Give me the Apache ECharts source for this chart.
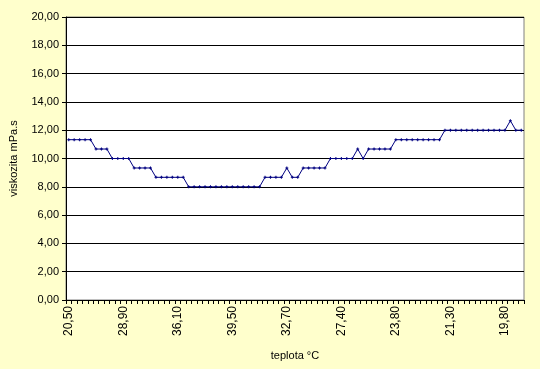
<!DOCTYPE html>
<html>
<head>
<meta charset="utf-8">
<script src="https://cdn.jsdelivr.net/npm/echarts@6/dist/echarts.min.js"></script>
<style>
    html, body { margin: 0; padding: 0; background: #FFFFCC; }
    #chart { width: 540px; height: 369px; }
</style>
</head>
<body>
<div id="chart"></div>
<script>
(function (echarts) {
    "use strict";
    // popisky osy x (kazda desata kategorie)
    var tickLabels = ['20,50', '28,90', '36,10', '39,50', '32,70', '27,40', '23,80', '21,30', '19,80'];
    var labelStep = 10;
    var pointCount = 84;
    // viskozita mPa.s
    var viscosity = [
        11.33, 11.33, 11.33, 11.33, 11.33,
        10.67, 10.67, 10.67,
        10, 10, 10, 10,
        9.33, 9.33, 9.33, 9.33,
        8.67, 8.67, 8.67, 8.67, 8.67, 8.67,
        8, 8, 8, 8, 8, 8, 8, 8, 8, 8, 8, 8, 8, 8,
        8.67, 8.67, 8.67, 8.67,
        9.33,
        8.67, 8.67,
        9.33, 9.33, 9.33, 9.33, 9.33,
        10, 10, 10, 10, 10,
        10.67,
        10,
        10.67, 10.67, 10.67, 10.67, 10.67,
        11.33, 11.33, 11.33, 11.33, 11.33, 11.33, 11.33, 11.33, 11.33,
        12, 12, 12, 12, 12, 12, 12, 12, 12, 12, 12, 12,
        12.67,
        12, 12
    ];

    var categories = [];
    for (var i = 0; i < pointCount; i++) {
        categories.push(i % labelStep === 0 ? tickLabels[i / labelStep] : '');
    }

    var font = 'Liberation Sans';
    var chart = echarts.init(document.getElementById('chart'));
    chart.setOption({
        backgroundColor: '#FFFFCC',
        animation: false,
        grid: {
            left: 65, right: 16, top: 17, bottom: 69,
            show: true,
            backgroundColor: '#FFFFFF',
            borderColor: '#808080',
            borderWidth: 1
        },
        xAxis: {
            type: 'category',
            data: categories,
            boundaryGap: true,
            name: 'teplota °C',
            nameLocation: 'middle',
            nameGap: 50,
            nameTextStyle: { fontFamily: font, fontSize: 11, color: '#000' },
            axisLine: { show: true, lineStyle: { color: '#000', width: 1 } },
            axisTick: { show: true, interval: 0, length: 4, lineStyle: { color: '#000', width: 1 } },
            axisLabel: {
                interval: labelStep - 1,
                rotate: 90,
                margin: 6,
                fontFamily: font,
                fontSize: 12,
                color: '#000'
            },
            splitLine: { show: false }
        },
        yAxis: {
            type: 'value',
            min: 0,
            max: 20,
            interval: 2,
            name: 'viskozita mPa.s',
            nameLocation: 'middle',
            nameGap: 47,
            nameTextStyle: { fontFamily: font, fontSize: 11, color: '#000' },
            axisLine: { show: true, lineStyle: { color: '#000', width: 1 } },
            axisTick: { show: true, length: 4, lineStyle: { color: '#000' } },
            axisLabel: {
                margin: 7,
                fontFamily: font,
                fontSize: 11,
                color: '#000',
                formatter: function (v) {
                    return v.toFixed(2).replace('.', ',');
                }
            },
            splitLine: { lineStyle: { color: '#000', width: 1 } }
        },
        series: [{
            type: 'line',
            data: viscosity,
            symbol: 'path://M1,0H2V1H3V2H2V3H1V2H0V1H1Z',
            symbolSize: 3,
            showAllSymbol: true,
            lineStyle: { color: '#000080', width: 1 },
            itemStyle: { color: '#000080' }
        }]
    });
}(echarts));
</script>
</body>
</html>
